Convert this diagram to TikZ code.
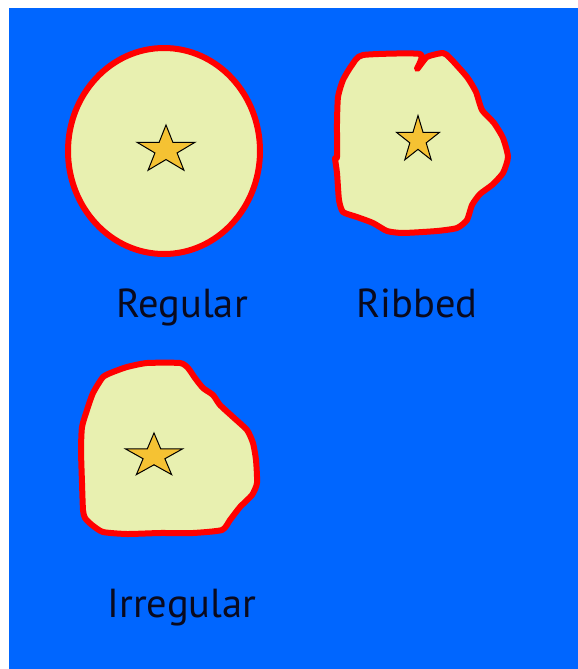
\documentclass[tikz,border=0pt]{standalone}
\usepackage{fontspec}
\setmainfont{PT Sans}
\usepackage{xcolor}
\usepackage{tikz}
\definecolor{MapBlue}{HTML}{0066FF}
\definecolor{ZoneFill}{HTML}{E8F0B0}
\definecolor{ZoneRed}{HTML}{FF0000}
\definecolor{StarGold}{HTML}{F5C233}
\definecolor{TextDark}{HTML}{0A0A1E}

\tikzset{
  starmark/.pic={
    \draw[fill=StarGold, draw=black, line width=1pt, line join=miter]
      (-90:1) -- (-54:0.382) -- (-18:1) -- (18:0.382) -- (54:1)
      -- (90:0.382) -- (126:1) -- (162:0.382) -- (198:1) -- (234:0.382) -- cycle;
  }
}

\begin{document}
\begin{tikzpicture}[x=1pt,y=-1pt,
    zone/.style={fill=ZoneFill, draw=ZoneRed, line width=6pt, line join=round},
    shapelabel/.style={font=\fontsize{40.5}{48}\selectfont, text=TextDark, anchor=base, inner sep=0pt}]
  \useasboundingbox (0,0) rectangle (578,669);
  \fill[white] (0,0) rectangle (578,669);
  \fill[MapBlue] (9,8) rectangle (578,669);

  % regular
  \draw[zone] (164,151) ellipse [x radius=96, y radius=103];
  \pic[xscale=30.5, yscale=25] at (166,150) {starmark};
  \node[shapelabel] (regular) at (182,317) {Regular};

  % ribbed
  \draw[zone] plot[smooth cycle, tension=0.35] coordinates {
      (363,55) (420,54) (417,69) (427,57) (443,53) (450,58) (467,77)
      (476,92) (482,110) (494,123) (503,138) (508,157) (503,173)
      (492,185) (480,194) (472,205) (467,220) (457,228) (437,231)
      (403,233) (387,231) (373,223) (357,217) (343,212) (339,200)
      (337,173) (335,158) (337,157) (337,123) (338,97) (343,80) (352,65)};
  \pic[xscale=22.5, yscale=24.5] at (418,140) {starmark};
  \node[shapelabel] (ribbed) at (417,317) {Ribbed};

  % irregular
  \draw[zone] plot[smooth cycle, tension=0.35] coordinates {
      (103,377) (113,372) (127,367) (147,363) (180,363) (188,368)
      (195,378) (203,388) (213,395) (220,405) (233,417) (247,430)
      (253,443) (256,460) (257,483) (252,495) (240,507) (230,520)
      (222,530) (193,533) (160,533) (127,534) (103,532) (92,525)
      (85,518) (83,510) (82,483) (81,450) (82,427) (87,410) (93,393)};
  \pic[xscale=30, yscale=23] at (154,456) {starmark};
  \node[shapelabel] (irregular) at (182,617) {Irregular};
\end{tikzpicture}
\end{document}
